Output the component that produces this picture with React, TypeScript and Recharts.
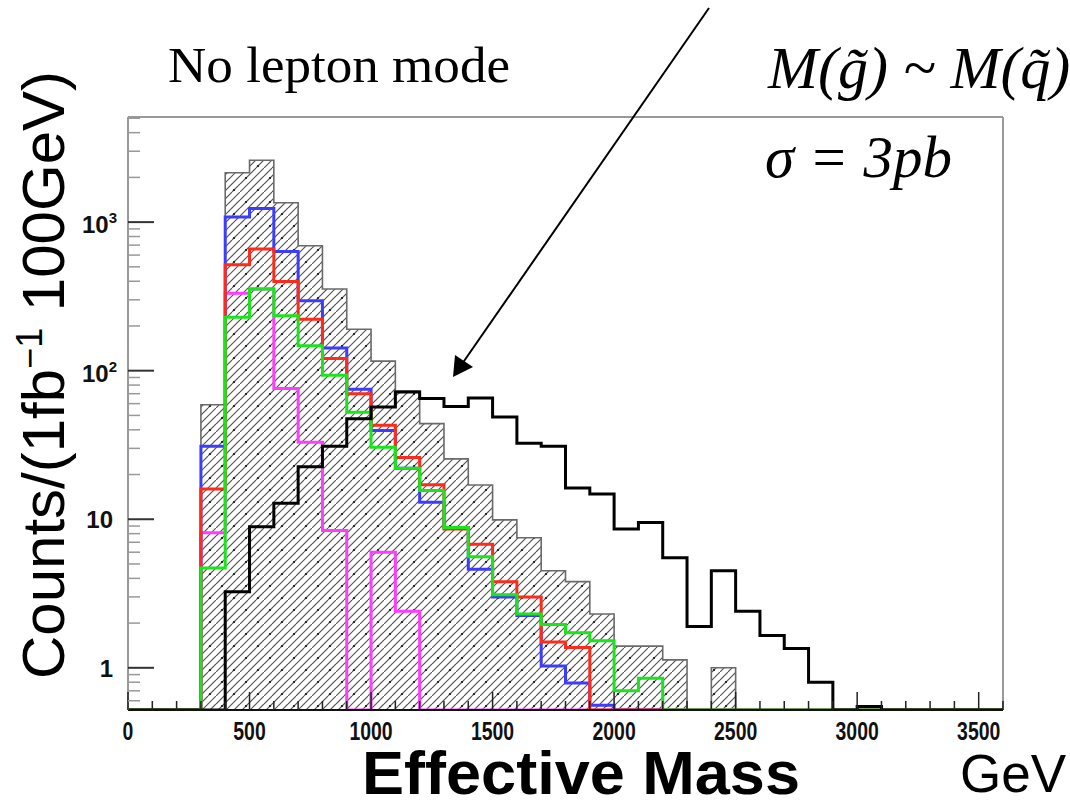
import React from 'react';
import { ComposedChart, Line, Area, XAxis, YAxis, ReferenceLine } from 'recharts';

if (typeof document !== 'undefined') {
  document.body.style.margin = '0';
}

// Bin lower edges (GeV), bin width 100 GeV
const binEdges = [300, 400, 500, 600, 700, 800, 900, 1000, 1100, 1200, 1300, 1400, 1500, 1600, 1700, 1800, 1900, 2000, 2100, 2200, 2300, 2400, 2500, 2600, 2700, 2800, 2900, 3000, 3100];

// Hatched total background
const smTotal = [59, 2150, 2610, 1350, 694, 355, 190, 116, 73, 44, 25.5, 17, 9.9, 7.5, 4.5, 3.8, 2.3, 1.4, 1.4, 1.13, 0, 1.0, 0, 0, 0, 0, 0, 0, 0];
// Black thick line: SUSY signal
const signal = [0, 3.25, 8.9, 12.8, 22.6, 31, 47.5, 57, 72, 65, 57.5, 65.5, 48.7, 32.5, 31, 16.2, 14.8, 8.6, 9.5, 5.5, 1.9, 4.5, 2.4, 1.65, 1.35, 0.8, 0, 0.55, 0];
const blueSeries = [31, 1084, 1233, 634, 296, 142, 75, 39.6, 22, 13, 8.8, 4.6, 3.0, 2.25, 1.03, 0.79, 0.56, 0, 0, 0, 0, 0, 0, 0, 0, 0, 0, 0, 0];
const redSeries = [16, 516, 659, 398, 222, 121, 70, 43, 26, 17.1, 8.6, 6.8, 3.8, 3.0, 1.49, 1.37, 0, 0, 0, 0, 0, 0, 0, 0, 0, 0, 0, 0, 0];
const greenSeries = [4.7, 229, 355, 234, 147, 93, 52.6, 30.5, 22, 15.6, 8.8, 5.6, 3.1, 2.3, 1.96, 1.72, 1.52, 0.7, 0.85, 0, 0, 0, 0, 0, 0, 0, 0, 0, 0];
const magentaSeries = [8.1, 332, 355, 76, 33, 8.4, 0, 6.0, 2.4, 0, 0, 0, 0, 0, 0, 0, 0, 0, 0, 0, 0, 0, 0, 0, 0, 0, 0, 0, 0];

const xTickLabels = [0, 500, 1000, 1500, 2000, 2500, 3000, 3500];
const yMajorTicks = [1, 10, 100, 1000];
const yMinorTicks = [0.6, 0.7, 0.8, 0.9, 2, 3, 4, 5, 6, 7, 8, 9, 20, 30, 40, 50, 60, 70, 80, 90, 200, 300, 400, 500, 600, 700, 800, 900, 2000, 3000, 4000, 5000];

const X_MAX = 3600;
const BIN_W = 100;
const Y_MIN = 0.52;
const Y_MAX = 5100;

// Build the stepped table (zero bins are drawn on the floor of the log axis)
const rows: any[] = [];
for (let x = 0; x <= X_MAX; x += BIN_W) {
  const i = binEdges.indexOf(x);
  const pick = (arr: number[]) => {
    const v = i >= 0 ? arr[i] : 0;
    return Math.max(v, Y_MIN);
  };
  rows.push({
    x,
    sm: pick(smTotal),
    sig: pick(signal),
    blue: pick(blueSeries),
    red: pick(redSeries),
    green: pick(greenSeries),
    mag: pick(magentaSeries),
  });
}
// last point repeats previous so the last bin closes at X_MAX
rows[rows.length - 1] = { ...rows[rows.length - 2], x: X_MAX };

const xTicksAll: number[] = [];
for (let x = 0; x <= X_MAX; x += BIN_W) xTicksAll.push(x);

const FONT = 'Liberation Sans, Arial, Helvetica, sans-serif';
const SERIF = 'Liberation Serif, Times New Roman, serif';

const XTick = (props: any) => {
  const { x, y, payload } = props;
  const v = payload.value as number;
  const major = v % 500 === 0;
  const showLabel = xTickLabels.includes(v);
  return (
    <g>
      <line x1={x} x2={x} y1={y} y2={y - (major ? 18 : 9)} stroke="#222" strokeWidth={1.5} />
      {showLabel && (
        <text
          x={x}
          y={y + 30}
          textAnchor="middle"
          fontFamily={FONT}
          fontWeight="bold"
          fontSize={26}
          fill="#111"
          textLength={String(v).length * 10.8}
          lengthAdjust="spacingAndGlyphs"
        >
          {v}
        </text>
      )}
    </g>
  );
};

const YTick = (props: any) => {
  const { x, y, payload } = props;
  const v = payload.value as number;
  const lg = Math.log10(v);
  const exp = Math.round(lg);
  const major = Math.abs(lg - exp) < 1e-6;
  let label: React.ReactNode = null;
  if (major) {
    if (exp === 0) {
      label = (
        <text x={x - 15} y={y + 9} textAnchor="end" fontFamily={FONT} fontWeight="bold" fontSize={24} fill="#111">1</text>
      );
    } else if (exp === 1) {
      label = (
        <text x={x - 15} y={y + 9} textAnchor="end" fontFamily={FONT} fontWeight="bold" fontSize={24} fill="#111">10</text>
      );
    } else {
      label = (
        <text x={x - 11} y={y + 11} textAnchor="end" fontFamily={FONT} fontWeight="bold" fontSize={24} fill="#111">
          10<tspan dy={-10} fontSize={15}>{exp}</tspan>
        </text>
      );
    }
  }
  return (
    <g>
      <line x1={x} x2={x + (major ? 26 : 12)} y1={y} y2={y} stroke={major ? '#333' : '#999'} strokeWidth={major ? 2 : 1.5} />
      {label}
    </g>
  );
};

export default function App() {
  return (
    <div style={{ position: 'relative', width: 1070, height: 806, background: '#fff', overflow: 'hidden' }}>
      <ComposedChart
        width={1070}
        height={806}
        data={rows}
        margin={{ top: 117, right: 67, bottom: 95, left: 127 }}
      >
        <defs>
          <pattern id="hatch" patternUnits="userSpaceOnUse" width="24" height="24">
            <rect width="24" height="24" fill="#fff" />
            <path
              d="M0,8 L8,0 M0,16 L16,0 M0,24 L24,0 M8,24 L24,8 M16,24 L24,16"
              stroke="#555"
              strokeWidth="1.1"
            />
            <circle cx="6" cy="10" r="1.1" fill="#111" />
            <circle cx="18" cy="22" r="1.1" fill="#111" />
          </pattern>
        </defs>
        <XAxis
          dataKey="x"
          type="number"
          domain={[0, X_MAX]}
          ticks={xTicksAll}
          interval={0}
          tickSize={0}
          tickMargin={0}
          tickLine={false}
          height={1}
          axisLine={{ stroke: '#111', strokeWidth: 2 }}
          tick={(p: any) => <XTick {...p} />}
          allowDataOverflow
        />
        <YAxis
          type="number"
          scale="log"
          domain={[Y_MIN, Y_MAX]}
          ticks={[...yMajorTicks, ...yMinorTicks].sort((a, b) => a - b)}
          interval={0}
          tickSize={0}
          tickMargin={0}
          tickLine={false}
          width={1}
          axisLine={{ stroke: '#999', strokeWidth: 2 }}
          tick={(p: any) => <YTick {...p} />}
          allowDataOverflow
        />
        <ReferenceLine y={Y_MAX} stroke="#999" strokeWidth={2} />
        <ReferenceLine x={X_MAX} stroke="#999" strokeWidth={2} />
        <Area
          type="stepAfter"
          dataKey="sm"
          baseValue={Y_MIN}
          fill="url(#hatch)"
          fillOpacity={1}
          stroke="#6a6a6a"
          strokeWidth={1.6}
          isAnimationActive={false}
          dot={false}
          activeDot={false}
        />
        <Line type="stepAfter" dataKey="mag" stroke="#ff3cff" strokeWidth={3} dot={false} activeDot={false} isAnimationActive={false} />
        <Line type="stepAfter" dataKey="blue" stroke="#3c3cff" strokeWidth={3} dot={false} activeDot={false} isAnimationActive={false} />
        <Line type="stepAfter" dataKey="red" stroke="#ff2a1a" strokeWidth={3} dot={false} activeDot={false} isAnimationActive={false} />
        <Line type="stepAfter" dataKey="green" stroke="#19e619" strokeWidth={3} dot={false} activeDot={false} isAnimationActive={false} />
        <Line type="stepAfter" dataKey="sig" stroke="#000" strokeWidth={3} dot={false} activeDot={false} isAnimationActive={false} />
      </ComposedChart>
      <svg
        width={1070}
        height={806}
        style={{ position: 'absolute', left: 0, top: 0, pointerEvents: 'none' }}
      >
        <text
          transform="translate(64, 375) rotate(-90)"
          textAnchor="middle"
          fontFamily={FONT}
          fontSize={60}
          fill="#000"
        >
          Counts/(1fb<tspan dy={-22} fontSize={36}>−1</tspan><tspan dy={22}> 100GeV)</tspan>
        </text>
        <text x={362} y={794} fontFamily={FONT} fontWeight="bold" fontSize={62} fill="#000" textLength={438} lengthAdjust="spacingAndGlyphs">
          Effective Mass
        </text>
        <text x={960} y={792} fontFamily={FONT} fontSize={53} fill="#000">
          GeV
        </text>
        <text x={168} y={82} fontFamily={SERIF} fontSize={50} fill="#000" textLength={342} lengthAdjust="spacingAndGlyphs">
          No lepton mode
        </text>
        <text x={768} y={88} fontFamily={SERIF} fontStyle="italic" fontSize={60} fill="#000">
          M(g̃) ~ M(q̃)
        </text>
        <text x={765} y={177} fontFamily={SERIF} fontStyle="italic" fontSize={59} fill="#000">
          σ = 3pb
        </text>
        <line x1={709} y1={8} x2={462} y2={364} stroke="#000" strokeWidth={2} />
        <polygon points="453,377 455,355 473,367" fill="#000" />
      </svg>
    </div>
  );
}
